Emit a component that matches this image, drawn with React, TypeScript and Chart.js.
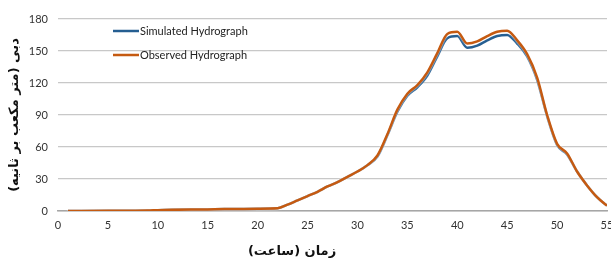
import React, { useEffect, useRef } from "react";
import { Chart, registerables } from "chart.js";

Chart.register(...registerables);

const hours = [1, 5, 9, 10, 15, 20, 22, 23, 24, 25, 26, 27, 28, 29, 30, 31, 32, 33, 34, 35, 36, 37, 38, 39, 40, 41, 42, 43, 44, 45, 46, 47, 48, 49, 50, 51, 52, 53, 54, 55];
const observed = [0, 0.2, 0.4, 0.8, 1.5, 2.2, 2.5, 6, 10, 14, 18, 23, 27, 32, 37, 43, 52, 72, 95, 110, 118, 130, 148, 166, 168, 157, 159, 164, 168, 169, 160, 147, 125, 90, 63, 54, 37, 24, 13, 5];
const simulated = [0, 0.2, 0.4, 0.8, 1.5, 2.2, 2.5, 6, 10, 14, 18, 23, 27, 32, 37, 43, 51, 71, 93, 108, 116, 127, 145, 162, 164, 153, 155, 160, 164, 165, 157, 145, 123, 89, 62, 53, 37, 24, 13, 5];
const seriesNames = ["Simulated Hydrograph", "Observed Hydrograph"];
const xTitle = "زمان (ساعت)";
const yTitle = "دبی (متر مکعب بر ثانیه)";

const BLUE = "#255E91";
const ORANGE = "#C55A11";
const FONT = "Lato, 'Liberation Sans', 'DejaVu Sans', sans-serif";
const TITLE_FONT = "bold 13px 'DejaVu Sans', sans-serif";

const decorPlugin = {
  id: "decor",
  beforeDatasetDraw(chart: any, args: any) {
    if (args.index === 1) {
      const ctx = chart.ctx;
      ctx.save();
      ctx.shadowColor = "rgba(255,255,255,1)";
      ctx.shadowBlur = 2;
    }
  },
  afterDatasetDraw(chart: any, args: any) {
    if (args.index === 1) chart.ctx.restore();
  },
  afterDraw(chart: any) {
    const ctx = chart.ctx;
    const items = [
      { label: seriesNames[0], color: BLUE, y: 31 },
      { label: seriesNames[1], color: ORANGE, y: 55 },
    ];
    ctx.save();
    ctx.font = "11px " + FONT;
    ctx.textBaseline = "middle";
    ctx.textAlign = "left";
    items.forEach((it) => {
      ctx.strokeStyle = it.color;
      ctx.lineWidth = 2.5;
      ctx.beginPath();
      ctx.moveTo(113, it.y);
      ctx.lineTo(139, it.y);
      ctx.stroke();
      ctx.fillStyle = "#222";
      ctx.fillText(it.label, 140, it.y);
    });
    ctx.fillStyle = "#111";
    ctx.font = TITLE_FONT;
    ctx.textAlign = "center";
    ctx.fillText(xTitle, 292, 252);
    ctx.translate(15, 115);
    ctx.rotate(-Math.PI / 2);
    ctx.fillText(yTitle, 0, 0);
    ctx.restore();
  },
};

export default function App() {
  const ref = useRef<HTMLCanvasElement>(null);
  useEffect(() => {
    const ctx = ref.current!;
    const common = { borderWidth: 2.5, pointRadius: 0, cubicInterpolationMode: "monotone" };
    const chart = new Chart(ctx, {
      type: "line",
      data: {
        datasets: [
          {
            label: seriesNames[0],
            data: hours.map((h, i) => ({ x: h, y: simulated[i] })),
            borderColor: BLUE,
            order: 2,
            ...common,
          },
          {
            label: seriesNames[1],
            data: hours.map((h, i) => ({ x: h, y: observed[i] })),
            borderColor: ORANGE,
            order: 1,
            ...common,
          },
        ],
      },
      options: {
        animation: false,
        responsive: false,
        layout: { padding: { top: 19, right: 4, left: 0, bottom: 0 } },
        plugins: { legend: { display: false }, tooltip: { enabled: false } },
        scales: {
          x: {
            type: "linear",
            min: 0,
            max: 55,
            ticks: { stepSize: 5, color: "#333", font: { family: FONT, size: 11 }, padding: 8, maxRotation: 0 },
            grid: { display: false, drawTicks: false },
            border: { display: true, color: "#A6A6A6", width: 1.5 },
            afterFit: (s: any) => {
              s.height = 51;
              s.paddingLeft = 0;
              s.paddingRight = 0;
            },
          },
          y: {
            min: 0,
            max: 180,
            ticks: { stepSize: 30, color: "#333", font: { family: FONT, size: 11 }, padding: 10 },
            grid: { color: "#C8C8C8", lineWidth: 1.2, drawTicks: false },
            border: { display: false },
            afterFit: (s: any) => {
              s.width = 58;
              s.paddingTop = 0;
              s.paddingBottom = 0;
            },
          },
        },
      },
      plugins: [decorPlugin],
    } as any);
    return () => chart.destroy();
  }, []);
  return (
    <div style={{ position: "absolute", left: 0, top: 0, width: 611, height: 262, background: "#fff" }}>
      <canvas ref={ref} width={611} height={262} />
    </div>
  );
}
